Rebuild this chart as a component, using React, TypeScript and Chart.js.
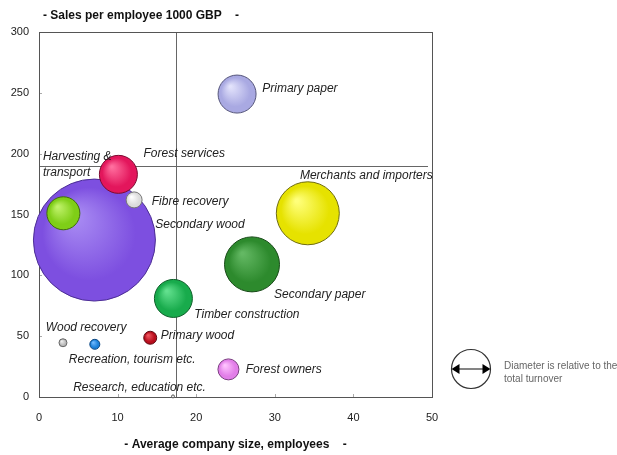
import React, { useEffect, useRef } from "react";
import { Chart, registerables } from "chart.js";

Chart.register(...registerables);

// ---- Data ----
const sectors = [
  "Secondary wood",
  "Harvesting & transport",
  "Forest services",
  "Fibre recovery",
  "Primary paper",
  "Merchants and importers",
  "Secondary paper",
  "Timber construction",
  "Primary wood",
  "Wood recovery",
  "Recreation, tourism etc.",
  "Forest owners",
  "Research, education etc.",
];
const companySize = [7.05, 3.1, 10.1, 12.1, 25.2, 34.2, 27.1, 17.1, 14.15, 3.05, 7.1, 24.1, 17.05];
const salesPerEmployee = [129, 151, 183, 162, 249, 151, 109, 81, 48.7, 44.6, 43.3, 22.7, 0.5];
const turnoverDiameter = [122, 33, 38, 16, 38, 63, 55, 38, 13, 8, 10, 21, 3];

const baseColors = ["#7d4fe0", "#7fce17", "#e3165c", "#dcdcdc", "#a9a9e2", "#e6e200", "#2d8a2d", "#18ab4c", "#b80d1c", "#b8b8b8", "#1a7fd8", "#e27ee8", "#dddddd"];
const lightColors = ["#a98cf3", "#c0f26a", "#ff6e9e", "#ffffff", "#e2e2fb", "#ffff7a", "#63b863", "#62e08e", "#f05a63", "#f0f0f0", "#73bbff", "#ffc4ff", "#ffffff"];
const edgeColors = ["#4c2e94", "#3f6a0c", "#7c0b30", "#777777", "#55557a", "#6f6c10", "#184a18", "#0d5e29", "#5e0710", "#666666", "#0d4680", "#7a3f80", "#555555"];

const labelTexts = [
  ["Primary paper"],
  ["Harvesting &", "transport"],
  ["Forest services"],
  ["Fibre recovery"],
  ["Secondary wood"],
  ["Merchants and importers"],
  ["Secondary paper"],
  ["Timber construction"],
  ["Wood recovery"],
  ["Primary wood"],
  ["Recreation, tourism etc."],
  ["Forest owners"],
  ["Research, education etc."],
];
const labelX = [28.4, 0.5, 13.3, 14.35, 14.8, 33.2, 29.9, 19.75, 0.85, 15.5, 3.8, 26.3, 4.35];
const labelY = [253.2, 197.2, 200, 160.5, 141.8, 181.9, 84.4, 67.9, 57, 50.1, 30.4, 22.7, 8];

const xTicks = [0, 10, 20, 30, 40, 50];
const yTicks = [0, 50, 100, 150, 200, 250, 300];
const avgCompanySize = 17.4;
const avgSalesPerEmployee = 190;

const xTitle = "- Average company size, employees    -";
const yTitle = "- Sales per employee 1000 GBP    -";
const legendLines = ["Diameter is relative to the", "total turnover"];

const FONT = "'Liberation Sans', Arial, sans-serif";

const overlayPlugin = {
  id: "overlay",
  beforeDatasetsDraw(chart: any) {
    const { ctx, chartArea: a, scales } = chart;
    ctx.save();
    // inner tick marks
    ctx.strokeStyle = "#aaaaaa";
    ctx.lineWidth = 1;
    xTicks.forEach((t) => {
      const px = Math.round(scales.x.getPixelForValue(t)) + 0.5;
      ctx.beginPath();
      ctx.moveTo(px, a.bottom);
      ctx.lineTo(px, a.bottom - 3);
      ctx.stroke();
    });
    yTicks.forEach((t) => {
      const py = Math.round(scales.y.getPixelForValue(t)) + 0.5;
      ctx.beginPath();
      ctx.moveTo(a.left, py);
      ctx.lineTo(a.left + 3, py);
      ctx.stroke();
    });
    // reference lines
    ctx.strokeStyle = "#666666";
    ctx.lineWidth = 1;
    const vx = Math.round(scales.x.getPixelForValue(avgCompanySize)) + 0.5;
    ctx.beginPath();
    ctx.moveTo(vx, a.top);
    ctx.lineTo(vx, a.bottom);
    ctx.stroke();
    const hy = Math.round(scales.y.getPixelForValue(avgSalesPerEmployee)) + 0.5;
    ctx.beginPath();
    ctx.moveTo(a.left, hy);
    ctx.lineTo(a.right - 4, hy);
    ctx.stroke();
    // frame
    ctx.strokeStyle = "#555555";
    ctx.strokeRect(Math.round(a.left) + 0.5, Math.round(a.top) + 0.5, Math.round(a.right - a.left), Math.round(a.bottom - a.top));
    ctx.restore();
  },
  afterDatasetsDraw(chart: any) {
    const { ctx, chartArea: a, scales } = chart;
    ctx.save();
    // labels
    ctx.font = `italic 12px ${FONT}`;
    ctx.fillStyle = "#222222";
    ctx.textAlign = "left";
    ctx.textBaseline = "middle";
    labelTexts.forEach((lines, i) => {
      const px = scales.x.getPixelForValue(labelX[i]);
      const py = scales.y.getPixelForValue(labelY[i]);
      lines.forEach((ln, j) => ctx.fillText(ln, px, py + j * 16));
    });
    // y title
    ctx.font = `bold 12px ${FONT}`;
    ctx.fillStyle = "#111111";
    ctx.fillText(yTitle, a.left + 4, 16);
    // legend annotation
    const cx = a.right + 39, cy = 369, r = 19.5;
    ctx.strokeStyle = "#333333";
    ctx.lineWidth = 1.2;
    ctx.beginPath();
    ctx.arc(cx, cy, r, 0, Math.PI * 2);
    ctx.stroke();
    ctx.beginPath();
    ctx.moveTo(cx - r + 6, cy);
    ctx.lineTo(cx + r - 6, cy);
    ctx.stroke();
    ctx.fillStyle = "#000000";
    ctx.beginPath();
    ctx.moveTo(cx - r, cy);
    ctx.lineTo(cx - r + 8, cy - 5);
    ctx.lineTo(cx - r + 8, cy + 5);
    ctx.closePath();
    ctx.fill();
    ctx.beginPath();
    ctx.moveTo(cx + r, cy);
    ctx.lineTo(cx + r - 8, cy - 5);
    ctx.lineTo(cx + r - 8, cy + 5);
    ctx.closePath();
    ctx.fill();
    ctx.font = `10px ${FONT}`;
    ctx.fillStyle = "#666666";
    ctx.fillText(legendLines[0], cx + 33, cy - 3);
    ctx.fillText(legendLines[1], cx + 33, cy + 10);
    ctx.restore();
  },
};

export default function App() {
  const ref = useRef<HTMLCanvasElement | null>(null);
  useEffect(() => {
    const canvas = ref.current;
    if (!canvas) return;
    const data = sectors.map((_, i) => ({ x: companySize[i], y: salesPerEmployee[i], r: turnoverDiameter[i] / 2 }));
    const chart = new Chart(canvas, {
      type: "bubble",
      data: {
        datasets: [
          {
            label: "Sectors",
            data,
            clip: false as any,
            borderWidth: 1,
            borderColor: (c: any) => edgeColors[c.dataIndex] || "#333",
            backgroundColor: (c: any) => {
              const i = c.dataIndex;
              const raw = c.raw;
              const ch = c.chart;
              if (!raw || !ch.scales || !ch.scales.x || !ch.chartArea) return baseColors[i];
              const px = ch.scales.x.getPixelForValue(raw.x);
              const py = ch.scales.y.getPixelForValue(raw.y);
              const rr = raw.r;
              if (!isFinite(px) || !isFinite(py)) return baseColors[i];
              const g = ch.ctx.createRadialGradient(px - rr * 0.35, py - rr * 0.4, rr * 0.05, px, py, rr);
              g.addColorStop(0, lightColors[i]);
              g.addColorStop(0.75, baseColors[i]);
              g.addColorStop(1, baseColors[i]);
              return g;
            },
          },
        ],
      },
      options: {
        responsive: false,
        animation: false,
        events: [],
        layout: { autoPadding: false, padding: { left: 0, top: 32, right: 185, bottom: 0 } },
        plugins: { legend: { display: false }, tooltip: { enabled: false }, title: { display: false } },
        scales: {
          x: {
            type: "linear",
            min: 0,
            max: 50,
            afterFit: (s: any) => { s.height = 58; },
            afterBuildTicks: (s: any) => { s.ticks = xTicks.map((v) => ({ value: v })); },
            grid: { display: false, drawTicks: false },
            border: { display: false },
            ticks: { padding: 14, color: "#222222", font: { family: FONT, size: 11 } },
            title: { display: true, text: xTitle, color: "#111111", font: { family: FONT, size: 12, weight: "bold" }, padding: { top: 0, bottom: 3 } },
          },
          y: {
            type: "linear",
            min: 0,
            max: 300,
            afterFit: (s: any) => { s.width = 39; },
            afterBuildTicks: (s: any) => { s.ticks = yTicks.map((v) => ({ value: v })); },
            grid: { display: false, drawTicks: false },
            border: { display: false },
            ticks: { padding: 10, color: "#222222", font: { family: FONT, size: 11 } },
          },
        },
      } as any,
      plugins: [overlayPlugin],
    });
    return () => chart.destroy();
  }, []);
  return (
    <div style={{ position: "absolute", left: 0, top: 0, width: 617, height: 455, background: "#ffffff", overflow: "hidden" }}>
      <canvas ref={ref} width={617} height={455} style={{ display: "block" }} />
    </div>
  );
}
